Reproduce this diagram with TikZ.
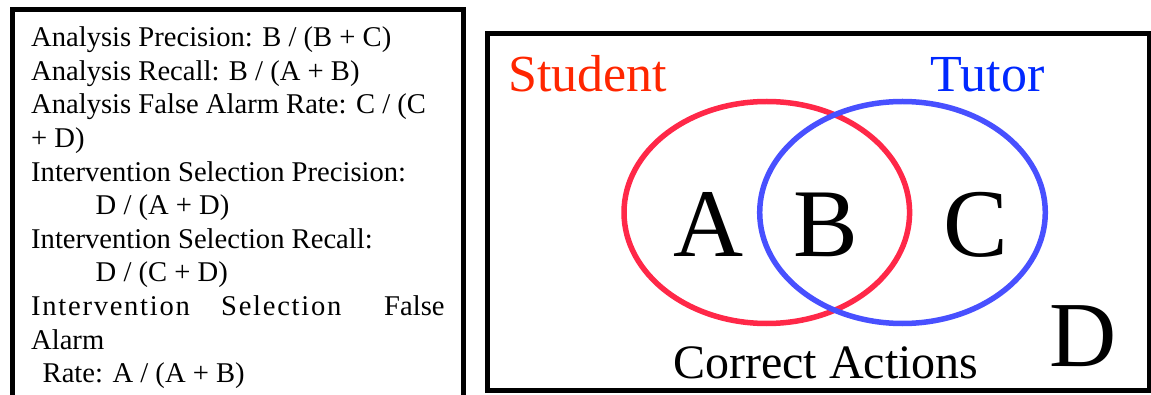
\documentclass[tikz,border=0pt]{standalone}
\usepackage{fontspec}
\setmainfont{Liberation Serif}
\usetikzlibrary{shapes.geometric}
\definecolor{ringred}{RGB}{255,40,72}
\definecolor{ringblue}{RGB}{72,80,255}
\definecolor{studentred}{RGB}{255,38,0}
\definecolor{tutorblue}{RGB}{0,40,255}
\begin{document}
\begin{tikzpicture}[x=1pt,y=-1pt,
  frame/.style={line width=5pt,black},
  ring/.style={ellipse,draw,line width=5.5pt,inner sep=0pt,minimum width=285.6pt,minimum height=222pt},
  lt/.style={font=\fontsize{28.6}{34}\selectfont,inner sep=0pt,anchor=base west},
  ltsp/.style={font=\fontsize{28.6}{34}\selectfont\addfontfeature{LetterSpace=6},inner sep=0pt,anchor=base west},
  big/.style={font=\fontsize{97}{100}\selectfont,inner sep=0pt,anchor=base west},
  lab/.style={font=\fontsize{52}{56}\selectfont,inner sep=0pt,anchor=base west},
  captext/.style={font=\fontsize{48}{52}\selectfont,inner sep=0pt,anchor=base west}]
\useasboundingbox (0,0) rectangle (1151,395);
% left box (open at the bottom, cut by the page)
\draw[frame] (12,400) -- (12,10) -- (463,10) -- (463,400);
\node[lt] (l1) at (31,46.7) {Analysis Precision: B / (B + C)};
\node[lt] (l2) at (31,80.3) {Analysis Recall: B / (A + B)};
\node[lt] (l3) at (31,113.9) {Analysis False Alarm Rate: C / (C};
\node[lt] (l4) at (31,147.5) {+ D)};
\node[lt] (l5) at (31,181.1) {Intervention Selection Precision:};
\node[lt] (l6) at (95.5,214.7) {D / (A + D)};
\node[lt] (l7) at (31,248.3) {Intervention Selection Recall:};
\node[lt] (l8) at (95.5,281.9) {D / (C + D)};
\node[ltsp] (l9a) at (31,315.5) {Intervention};
\node[ltsp] (l9b) at (221,315.5) {Selection};
\node[lt] (l9c) at (384,315.5) {False};
\node[lt] (l10) at (31,349.1) {Alarm};
\node[lt] (l11) at (42.5,382.7) {Rate: A / (A + B)};
% right box
\node[draw,frame,inner sep=0pt,minimum width=661.5pt,minimum height=357pt] (venn) at (818.25,212) {};
\node[ring,ringred] (student) at (766.8,212.5) {};
\node[ring,ringblue] (tutor) at (902.5,212.5) {};
\node[lab,text=studentred] (stu) at (508,92) {Student};
\node[lab,text=tutorblue] (tut) at (930.5,92) {Tutor};
\node[big] (a) at (673,257) {A};
\node[big] (b) at (793,257) {B};
\node[big] (c) at (943,257) {C};
\node[big,font=\fontsize{93}{96}\selectfont] (d) at (1049.5,366) {D};
\node[captext] (ca) at (673,378) {Correct Actions};
\end{tikzpicture}
\end{document}
